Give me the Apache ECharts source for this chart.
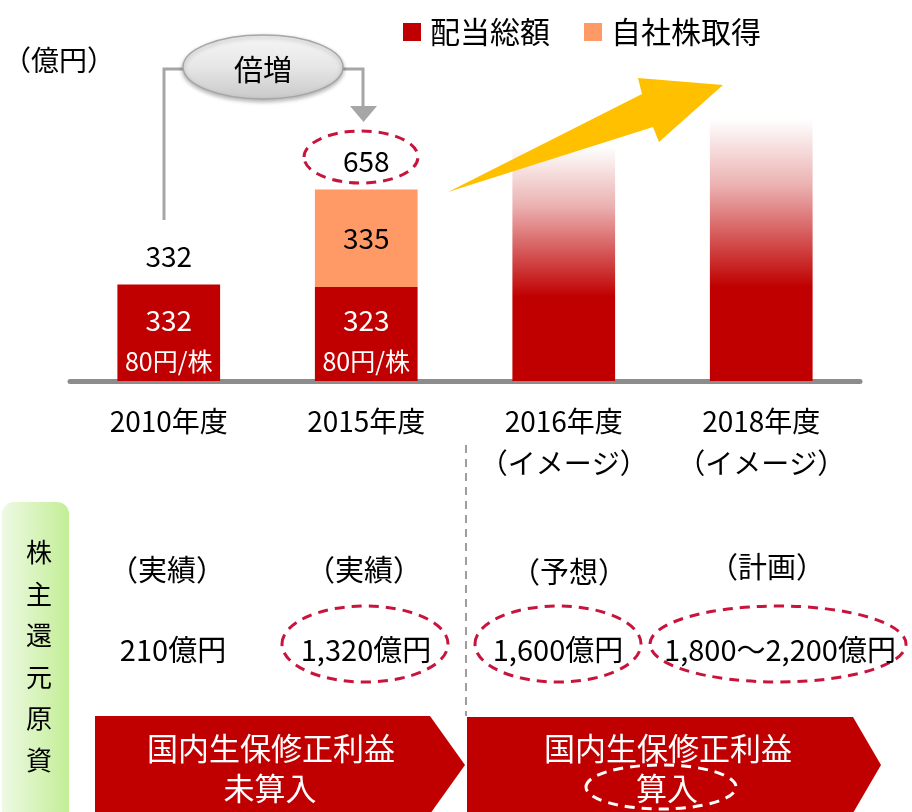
<!DOCTYPE html>
<html><head><meta charset="utf-8">
<script src="https://cdn.jsdelivr.net/npm/echarts@6/dist/echarts.min.js"></script>
<style>html,body{margin:0;padding:0;background:#fff}#c{width:912px;height:812px}</style>
</head><body><div id="c"></div>
<script>
// ---- data ----
const categories = ['2010年度', '2015年度', '2016年度\n（イメージ）', '2018年度\n（イメージ）'];
const dividends = [332, 323, null, null];
const buybacks = [null, 335, null, null];
const imageBars = [null, null, 805, 900];
const totals = [332, 658, null, null];
const perShare = ['80円/株', '80円/株', null, null];
const legendNames = ['配当総額', '自社株取得'];
const statusLabels = ['（実績）', '（実績）', '（予想）', '（計画）'];
const returnAmounts = ['210億円', '1,320億円', '1,600億円', '1,800～2,200億円'];
const sideTitle = '株主還元原資';

const FONT = '"Noto Sans CJK JP","Noto Sans",sans-serif';
const RED = '#C00000', ORANGE = '#FF9966', DASHRED = '#C8143C';
const chart = echarts.init(document.getElementById('c'));

chart.setOption({
  animation: false,
  textStyle: { fontFamily: FONT },
  legend: {
    data: legendNames, left: 398, top: 12, icon: 'rect',
    itemWidth: 18, itemHeight: 18, itemGap: 34,
    textStyle: { fontSize: 30, color: '#000', fontFamily: FONT, padding: [0, 0, 0, 4] },
    selectedMode: false
  },
  grid: { left: 70, right: 52, top: 90, bottom: 431 },
  xAxis: {
    type: 'category', data: categories,
    axisLine: { lineStyle: { color: '#8c8c8c', width: 5 } },
    axisTick: { show: false },
    axisLabel: { interval: 0, fontSize: 28, lineHeight: 42, margin: 19, color: '#000', fontFamily: FONT }
  },
  yAxis: { type: 'value', min: 0, max: 1000, show: false, splitLine: { show: false } },
  series: [
    {
      name: legendNames[0], type: 'bar', stack: 'a', barWidth: '52%', data: dividends,
      itemStyle: { color: RED },
      label: {
        show: true, position: 'insideBottom', distance: 3, color: '#fff',
        formatter: p => '{v|' + p.value + '}\n{s|' + perShare[p.dataIndex] + '}',
        rich: {
          v: { fontSize: 28, lineHeight: 48, color: '#fff', fontFamily: FONT },
          s: { fontSize: 25, lineHeight: 34, color: '#fff', fontFamily: FONT }
        }
      }
    },
    {
      name: legendNames[1], type: 'bar', stack: 'a', data: buybacks,
      itemStyle: { color: ORANGE },
      label: { show: true, position: 'inside', fontSize: 28, color: '#000', fontFamily: FONT }
    },
    {
      name: 'image', type: 'bar', stack: 'a', data: imageBars,
      itemStyle: {
        color: new echarts.graphic.LinearGradient(0, 0, 0, 1, [
          { offset: 0, color: 'rgba(192,0,0,0)' },
          { offset: 0.25, color: 'rgba(192,0,0,0.3)' },
          { offset: 0.64, color: RED },
          { offset: 1, color: RED }
        ])
      }
    },
    {
      name: 'total', type: 'bar', stack: 'a',
      data: totals.map(v => (v == null ? null : 0)),
      itemStyle: { color: 'rgba(0,0,0,0)' },
      label: {
        show: true, position: 'top', distance: 14, fontSize: 28, color: '#000', fontFamily: FONT,
        formatter: p => String(totals[p.dataIndex])
      }
    }
  ]
});

// ---- decorations ----
function txt(text, x, y, size, color, lh) {
  const st = { text, x, y, fill: color || '#000', font: size + 'px ' + FONT,
    fontSize: size, fontFamily: FONT,
    align: 'center', verticalAlign: 'middle', textAlign: 'center', textVerticalAlign: 'middle' };
  if (lh) st.lineHeight = lh;
  return { type: 'text', z: 20, style: st };
}
function dashEllipse(cxp, cyp, rx, ry, color) {
  return { type: 'ellipse', z: 15, shape: { cx: cxp, cy: cyp, rx, ry },
    style: { fill: 'none', stroke: color, lineWidth: 3, lineDash: [10, 7] } };
}
const statusX = [167, 364, 569, 767];
const statusY = [570, 570, 572, 567];
const amountX = [173, 366, 558, 780];
const g = [];
g.push(txt('（億円）', 59, 60, 28));
g.push({ type: 'polyline', z: 5, shape: { points: [[164, 220], [164, 69], [190, 69]] },
  style: { stroke: '#a6a6a6', lineWidth: 3, fill: 'none' } });
g.push({ type: 'polyline', z: 5, shape: { points: [[336, 69], [363, 69], [363, 107]] },
  style: { stroke: '#a6a6a6', lineWidth: 3, fill: 'none' } });
g.push({ type: 'polygon', z: 5, shape: { points: [[350, 106], [377, 106], [363.5, 122]] },
  style: { fill: '#a6a6a6' } });
g.push({ type: 'ellipse', z: 8, shape: { cx: 263, cy: 67, rx: 80, ry: 32 },
  style: { fill: new echarts.graphic.LinearGradient(0, 0, 0, 1, [
      { offset: 0, color: '#f7f7f7' }, { offset: 0.5, color: '#e6e6e6' }, { offset: 1, color: '#c9c9c9' }]),
    stroke: '#a6a6a6', lineWidth: 1.5, shadowBlur: 4, shadowColor: 'rgba(0,0,0,0.3)', shadowOffsetY: 2 } });
g.push(txt('倍増', 263, 70, 29));
g.push(dashEllipse(361, 157, 57, 26, DASHRED));
g.push({ type: 'polygon', z: 12, shape: { points: [[448, 192], [642, 94], [638, 78], [723, 85], [659, 142], [653, 127]] },
  style: { fill: '#FFC000' } });
g.push({ type: 'line', z: 4, shape: { x1: 466, y1: 445, x2: 466, y2: 716 },
  style: { stroke: '#7f7f7f', lineWidth: 1.5, lineDash: [8, 6] } });
g.push({ type: 'rect', z: 3, shape: { x: 2, y: 502, width: 67, height: 330, r: 12 },
  style: { fill: new echarts.graphic.LinearGradient(0, 0, 1, 0, [
    { offset: 0, color: '#eef9e4' }, { offset: 1, color: '#c3ee96' }]) } });
g.push(txt(sideTitle.split('').join('\n'), 39, 656, 26, '#000', 41.5));
statusLabels.forEach((s, i) => g.push(txt(s, statusX[i], statusY[i], 29)));
returnAmounts.forEach((s, i) => g.push(txt(s, amountX[i], 650, 29)));
g.push(dashEllipse(365, 644, 83, 38, DASHRED));
g.push(dashEllipse(558, 644, 83, 38, DASHRED));
g.push(dashEllipse(778, 644, 128, 38, DASHRED));
g.push({ type: 'polygon', z: 6, shape: { points: [[95, 716], [430, 716], [465, 765], [430, 814], [95, 814]] }, style: { fill: RED } });
g.push({ type: 'polygon', z: 6, shape: { points: [[467, 717], [853, 717], [881, 765], [853, 813], [467, 813]] }, style: { fill: RED } });
g.push(txt('国内生保修正利益', 271, 748, 31, '#fff'));
g.push(txt('未算入', 270, 788, 31, '#fff'));
g.push(txt('国内生保修正利益', 668, 748, 31, '#fff'));
g.push(txt('算入', 667, 788, 31, '#fff'));
g.push(dashEllipse(661, 787, 75, 22, '#ffffff'));

chart.setOption({ graphic: { elements: g } });
</script>
</body></html>
